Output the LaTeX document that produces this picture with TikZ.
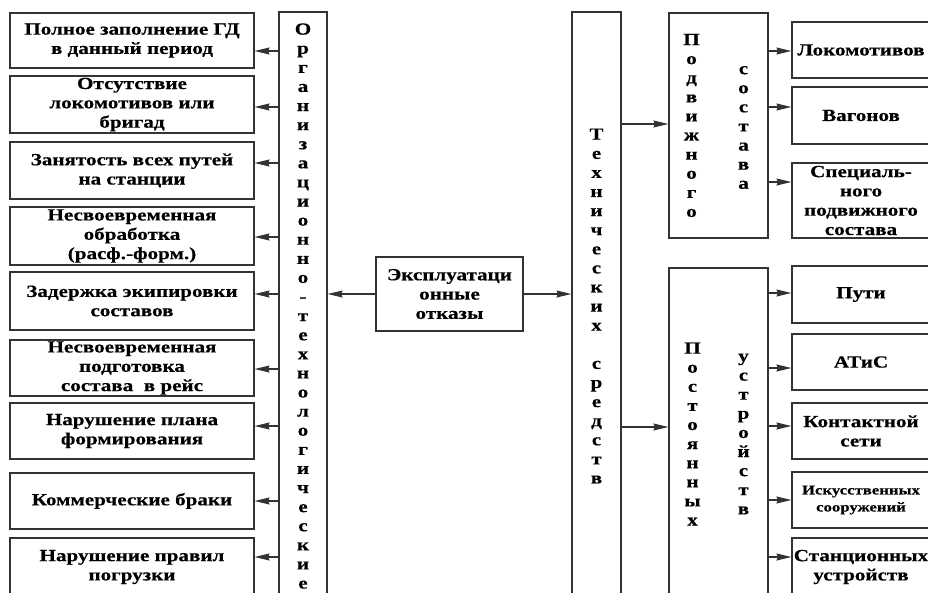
\documentclass[tikz,border=0pt]{standalone}
\usepackage{fontspec}
\setmainfont{Liberation Serif}[FakeStretch=1.24,FakeBold=0.4]
\usetikzlibrary{arrows.meta}
\tikzset {>={Stealth[length=15pt,width=7pt,inset=1.5pt]}}

\begin{document}
\begin{tikzpicture}[x=1pt,y=-1pt,line width=1.2pt,draw=black!80,
  box/.style={draw,align=center,inner sep=0pt,
    font=\bfseries\fontsize{17}{19.3}\selectfont},
  letters/.style={align=center,inner sep=0pt,
    font=\bfseries\fontsize{17}{19.1}\selectfont},
  rsmall/.style={box,font=\bfseries\fontsize{13.5}{17}\selectfont}]
\useasboundingbox (0,0) rectangle (928,592);
\clip (0,0) rectangle (928,592);
% two tall boxes with the letters stacked
\node[box,letters,minimum width=48,minimum height=588] (org) at (303,306)
  {О\\р\\г\\а\\н\\и\\з\\а\\ц\\и\\о\\н\\н\\о\\-\\т\\е\\х\\н\\о\\л\\о\\г\\и\\ч\\е\\с\\к\\и\\е};
\node[box,letters,minimum width=49,minimum height=588] (tech) at (596.5,306)
  {Т\\е\\х\\н\\и\\ч\\е\\с\\к\\и\\х\\~\\с\\р\\е\\д\\с\\т\\в};
\node[box,minimum width=147,minimum height=74] (expl) at (449.5,294)
  {Эксплуатаци\\онные\\отказы};
\draw[->] (expl.west) -- (expl.west -| org.east);
\draw[->] (expl.east) -- (expl.east -| tech.west);
% left column
\foreach \name/\ya/\yb/\ay/\txt in {
  l1/13/68/51/{Полное заполнение ГД\\в данный период},
  l2/76/133/107/{Отсутствие\\локомотивов или\\бригад},
  l3/142/199/163/{Занятость всех путей\\на станции},
  l4/207/265/237/{Несвоевременная\\обработка\\(расф.-форм.)},
  l5/272/330/294/{Задержка экипировки\\составов},
  l6/340/396/369/{Несвоевременная\\подготовка\\состава~ в рейс},
  l7/403/459/426/{Нарушение плана\\формирования},
  l8/473/529/501/{Коммерческие браки},
  l9/538/596/557/{Нарушение правил\\погрузки}}
{
  \node[box,minimum width=244,minimum height={\yb-\ya}] (\name) at (132,{(\ya+\yb)/2}) {\txt};
  \coordinate (a\name) at (org.west |- 0,\ay);
  \draw[->] (a\name) -- (a\name -| \name.east);
}
% right part
\node[box,minimum width=99,minimum height=225] (pod) at (718.5,125.5) {};
\node[letters] (podA) at ([xshift=-27pt]pod.center) {П\\о\\д\\в\\и\\ж\\н\\о\\г\\о};
\node[letters] (podB) at ([xshift=25pt,yshift=-2pt]pod.center) {с\\о\\с\\т\\а\\в\\а};
\node[box,minimum width=99,minimum height=332] (post) at (718.5,434) {};
\node[letters] (postA) at ([xshift=-26pt]post.center) {П\\о\\с\\т\\о\\я\\н\\н\\ы\\х};
\node[letters] (postB) at ([xshift=25pt]post.center) {у\\с\\т\\р\\о\\й\\с\\т\\в};
\coordinate (tp) at (tech.east |- 0,124);
\coordinate (tq) at (tech.east |- 0,427);
\draw[->] (tp) -- (tp -| pod.west);
\draw[->] (tq) -- (tq -| post.west);
\foreach \name/\src/\ya/\yb/\ay/\st/\txt in {
  r1/pod/22/78/51/box/{Локомотивов},
  r2/pod/87/144/107/box/{Вагонов},
  r3/pod/163/238/182/box/{Специаль-\\ного\\подвижного\\состава},
  r4/post/266/323/293/box/{Пути},
  r5/post/334/390/368/box/{АТиС},
  r6/post/403/459/426/box/{Контактной\\сети},
  r7/post/472/528/500/rsmall/{Искусственных\\сооружений},
  r8/post/538/596/557/box/{Станционных\\устройств}}
{
  \node[\st,minimum width=138,minimum height={\yb-\ya}] (\name) at (861,{(\ya+\yb)/2}) {\txt};
  \coordinate (a\name) at (\src.east |- 0,\ay);
  \draw[->] (a\name) -- (a\name -| \name.west);
}
\end{tikzpicture}
\end{document}
